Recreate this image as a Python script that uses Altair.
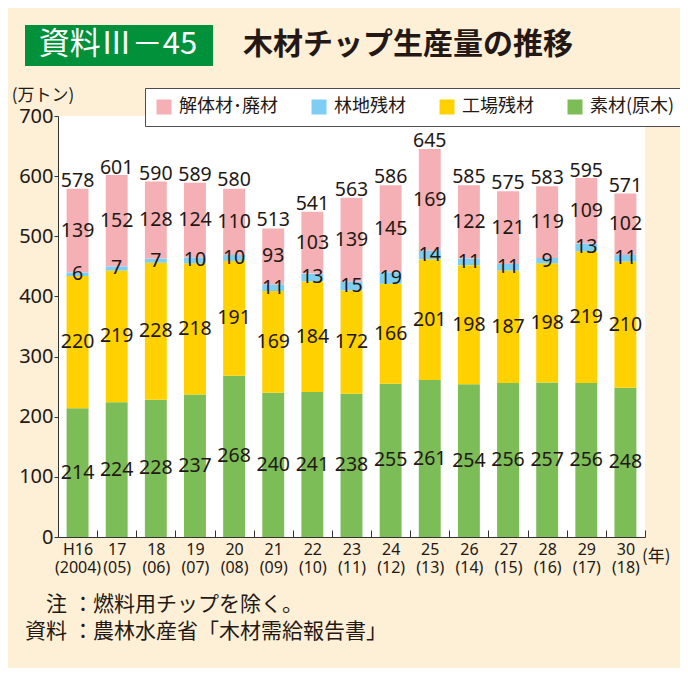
import altair as alt
import pandas as pd

years = ["H16\n(2004)", "17\n(05)", "18\n(06)", "19\n(07)", "20\n(08)",
         "21\n(09)", "22\n(10)", "23\n(11)", "24\n(12)", "25\n(13)",
         "26\n(14)", "27\n(15)", "28\n(16)", "29\n(17)", "30\n(18)"]
soza = [214, 224, 228, 237, 268, 240, 241, 238, 255, 261, 254, 256, 257, 256, 248]
kojo = [220, 219, 228, 218, 191, 169, 184, 172, 166, 201, 198, 187, 198, 219, 210]
rinchi = [6, 7, 7, 10, 10, 11, 13, 15, 19, 14, 11, 11, 9, 13, 11]
kaitai = [139, 152, 128, 124, 110, 93, 103, 139, 145, 169, 122, 121, 119, 109, 102]
totals = [578, 601, 590, 589, 580, 513, 541, 563, 586, 645, 585, 575, 583, 595, 571]
series = ["解体材･廃材", "林地残材", "工場残材", "素材(原木)"]
colors = ["#F4B0B4", "#7ECEF4", "#FFD100", "#7CBD57"]
y_ticks = [0, 100, 200, 300, 400, 500, 600, 700]

rows = []
for i, yr in enumerate(years):
    for ordv, (name, vals) in enumerate([(series[3], soza), (series[2], kojo),
                                          (series[1], rinchi), (series[0], kaitai)]):
        rows.append({"year": yr, "series": name, "value": vals[i], "ord": ordv})
df = pd.DataFrame(rows)
df_tot = pd.DataFrame({"year": years, "total": totals})

TXT = "#231815"
NUM_FONT = "Noto Sans, Noto Sans CJK JP"
JP_FONT = "Noto Sans CJK JP"
W, H = 587, 421
half = W / len(years) / 2

x_enc = alt.X("year:N", sort=years,
              scale=alt.Scale(paddingInner=0.44, paddingOuter=0.22, round=False),
              axis=alt.Axis(title=None, labelAngle=0, labelExpr="split(datum.label, '\\n')",
                            labelFont=NUM_FONT, labelFontSize=16, labelLineHeight=18,
                            labelColor=TXT, labelBaseline="top", labelPadding=11,
                            labelOverlap=False,
                            bandPosition=0.5, tickOffset=half, labelOffset=-half,
                            tickSize={"expr": "-7"}, tickColor="#333333",
                            domainColor="#333333", domainWidth=1))
y_scale = alt.Scale(domain=[0, 700], nice=False)

bars = alt.Chart(df).mark_bar().encode(
    x=x_enc,
    y=alt.Y("value:Q", stack="zero", scale=y_scale,
            axis=alt.Axis(values=y_ticks, title=None, grid=False, tickSize=4,
                          labelPadding=1, labelFont=NUM_FONT, labelFontSize=20,
                          labelColor=TXT, tickColor="#333333", domainColor="#333333",
                          domainWidth=1)),
    color=alt.Color("series:N", scale=alt.Scale(domain=series, range=colors),
                    legend=alt.Legend(orient="none", legendX=87, legendY=-28,
                                      direction="horizontal", title=None,
                                      symbolType="square", symbolSize=225,
                                      symbolStrokeWidth=0, symbolOpacity=1,
                                      labelFont=JP_FONT, labelFontSize=18,
                                      labelColor=TXT, labelOffset=6,
                                      columnPadding=32, padding=10,
                                      fillColor="white", strokeColor="#4d4d4d")),
    order=alt.Order("ord:Q", sort="ascending"),
)

seg_labels = alt.Chart(df).transform_stack(
    stack="value", groupby=["year"], as_=["v0", "v1"],
    sort=[alt.SortField("ord", "ascending")]
).transform_calculate(mid="(datum.v0 + datum.v1) / 2").mark_text(
    font=NUM_FONT, fontSize=19.5, color=TXT, baseline="middle"
).encode(
    x=alt.X("year:N", sort=years),
    y=alt.Y("mid:Q", scale=y_scale),
    text="value:Q",
)

tot_labels = alt.Chart(df_tot).mark_text(
    font=NUM_FONT, fontSize=19.5, color=TXT, baseline="alphabetic", dy=-2
).encode(
    x=alt.X("year:N", sort=years),
    y=alt.Y("total:Q", scale=y_scale),
    text="total:Q",
)

one = alt.Data(values=[{"a": 1}])

def label(txt, px, py, size, align="left", weight="normal", color=TXT, font=JP_FONT):
    return alt.Chart(one).mark_text(
        font=font, fontSize=size, align=align, baseline="middle",
        fontWeight=weight, color=color
    ).encode(x=alt.value(px), y=alt.value(py), text=alt.value(txt))

green_box = alt.Chart(one).mark_rect(color="#00913A").encode(
    x=alt.value(-33), x2=alt.value(155), y=alt.value(-91), y2=alt.value(-50))

annos = [
    green_box,
    label("資料Ⅲ－45", 60, -71, 31, align="center", color="white"),
    label("木材チップ生産量の推移", 185, -71, 30, weight="bold"),
    label("(万トン)", -15, -20, 17, align="center"),
    label("(年)", 584, 441, 17),
    label("注", 9, 489, 21, align="right"),
    label("：", 25, 489, 21, align="center"),
    label("燃料用チップを除く。", 35, 489, 21),
    label("資料", 9, 516, 21, align="right"),
    label("：", 25, 516, 21, align="center"),
    label("農林水産省「木材需給報告書」", 35, 516, 21),
]

chart = alt.layer(bars, seg_labels, tot_labels, *annos).properties(
    width=W, height=H,
    autosize="none",
    padding={"left": 50, "top": 108, "right": 35, "bottom": 131},
    background="#FDF0D6",
).configure_view(fill="white", strokeWidth=0)

chart.save("out.html", embed_options={"renderer": "svg", "actions": False})
